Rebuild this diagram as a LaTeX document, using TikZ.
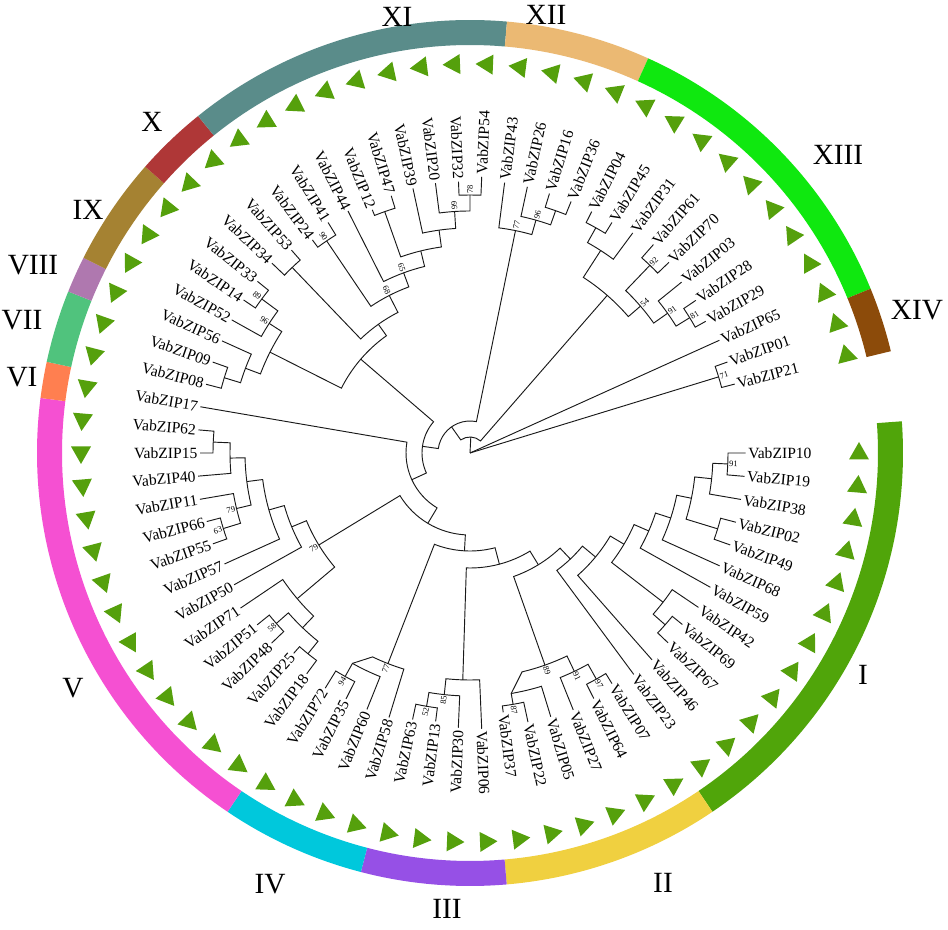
\documentclass[tikz,border=0pt]{standalone}
\usepackage{fontspec}
\setmainfont{Liberation Serif}

\definecolor{cI}{RGB}{80,165,10}
\definecolor{cII}{RGB}{240,208,64}
\definecolor{cIII}{RGB}{150,80,230}
\definecolor{cIV}{RGB}{0,200,220}
\definecolor{cV}{RGB}{245,80,210}
\definecolor{cVI}{RGB}{255,127,80}
\definecolor{cVII}{RGB}{80,195,125}
\definecolor{cVIII}{RGB}{175,120,175}
\definecolor{cIX}{RGB}{165,130,50}
\definecolor{cX}{RGB}{175,55,55}
\definecolor{cXI}{RGB}{90,140,138}
\definecolor{cXII}{RGB}{235,185,115}
\definecolor{cXIII}{RGB}{15,232,15}
\definecolor{cXIV}{RGB}{140,75,10}
\definecolor{tri}{RGB}{85,160,12}

\tikzset{
	branch/.style={line width=0.7pt, black!90},
	leaflabel/.style={font=\fontsize{11.7}{12}\selectfont, inner sep=0.6pt},
	bootlabel/.style={font=\fontsize{6.3}{7}\selectfont, inner sep=0.4pt},
	grouplabel/.style={font=\fontsize{22}{24}\selectfont, inner sep=0pt},
	marker/.style={fill=tri},
}

% leaf: number, slot, tip radius
\newcommand{\tip}[3]{%
	\pgfmathsetmacro\tang{-#2*4.864865}%
	\expandafter\xdef\csname angp#1\endcsname{\tang}%
	\coordinate (p#1) at (\tang:#3);%
	\pgfmathsetmacro\tlab{#3+1.5}%
	\pgfmathtruncatemacro\tflip{cos(\tang)<0}%
	\ifnum\tflip=1
		\pgfmathsetmacro\trot{\tang+180}%
		\node[leaflabel, anchor=east, rotate=\trot] (n#1) at (\tang:\tlab) {VabZIP#1};%
	\else
		\node[leaflabel, anchor=west, rotate=\tang] (n#1) at (\tang:\tlab) {VabZIP#1};%
	\fi
	\fill[marker, shift={(\tang:389)}, rotate=\tang] (0,11) -- (-10,-6.5) -- (10,-6.5) -- cycle;%
}

% inner node: name, radius, child, child, support
\newcommand{\clade}[5]{%
	\edef\cangA{\csname ang#3\endcsname}%
	\edef\cangB{\csname ang#4\endcsname}%
	\pgfmathsetmacro\cangM{(\cangA+\cangB)/2}%
	\expandafter\xdef\csname ang#1\endcsname{\cangM}%
	\coordinate (#1) at (\cangM:#2);%
	\coordinate (#3b) at (\cangA:#2);%
	\coordinate (#4b) at (\cangB:#2);%
	\draw[branch] (#3) -- (#3b) arc[start angle=\cangA, end angle=\cangB, radius=#2] -- (#4);%
	\def\csup{#5}%
	\ifx\csup\empty\else
		\pgfmathsetmacro\clab{#2+0.8}%
		\pgfmathtruncatemacro\cflip{cos(\cangM)<0}%
		\ifnum\cflip=1
			\pgfmathsetmacro\crot{\cangM+180}%
			\node[bootlabel, anchor=east, rotate=\crot] (s#1) at (\cangM:\clab) {#5};%
		\else
			\node[bootlabel, anchor=west, rotate=\cangM] (s#1) at (\cangM:\clab) {#5};%
		\fi
	\fi
}

% coloured ring between two angles
\newcommand{\band}[3]{%
	\fill[#3] (#1:408) arc[start angle=#1, end angle=#2, radius=408] -- (#2:433) arc[start angle=#2, end angle=#1, radius=433] -- cycle;%
}

\begin{document}
\begin{tikzpicture}[x=0.75pt, y=0.75pt]
	\fill[white] (-470,-477) rectangle (478,453);
	\useasboundingbox (-470,-477) rectangle (478,453);
	
	% groups
	\band{4.2}{-55.95}{cI}
	\band{-55.95}{-85.14}{cII}
	\band{-85.14}{-104.6}{cIII}
	\band{-104.6}{-124.05}{cIV}
	\band{-124.05}{-187.3}{cV}
	\band{-187.3}{-192.16}{cVI}
	\band{-192.16}{-201.9}{cVII}
	\band{-201.9}{-206.8}{cVIII}
	\band{-206.8}{-221.4}{cIX}
	\band{-221.4}{-231.1}{cX}
	\band{-231.1}{-274.9}{cXI}
	\band{-274.9}{-294.3}{cXII}
	\band{-294.3}{-337.7}{cXIII}
	\band{-337.7}{-346.4}{cXIV}
	
	% leaves
	\tip{10}{0}{275.7} \tip{19}{1}{275.5} \tip{38}{2}{274.9} \tip{02}{3}{274.8}
	\tip{49}{4}{276} \tip{68}{5}{274} \tip{59}{6}{275.4} \tip{42}{7}{275.7}
	\tip{69}{8}{273} \tip{67}{9}{274.4} \tip{46}{10}{275.6} \tip{23}{11}{275.4}
	\tip{07}{12}{270.8} \tip{64}{13}{275} \tip{27}{14}{276.9} \tip{05}{15}{275.9}
	\tip{22}{16}{275.2} \tip{37}{17}{261.4} \tip{06}{18}{276} \tip{30}{19}{275}
	\tip{13}{20}{270.5} \tip{63}{21}{272.6} \tip{58}{22}{276.6} \tip{60}{23}{276.4}
	\tip{35}{24}{275.4} \tip{72}{25}{276.1} \tip{18}{26}{274.6} \tip{25}{27}{266.9}
	\tip{48}{28}{274.8} \tip{51}{29}{273.6} \tip{71}{30}{277} \tip{50}{31}{270.2}
	\tip{57}{32}{269.4} \tip{55}{33}{272.7} \tip{66}{34}{272} \tip{11}{35}{274}
	\tip{40}{36}{272.9} \tip{15}{37}{270} \tip{62}{38}{272.5} \tip{17}{39}{273.6}
	\tip{08}{40}{272.8} \tip{09}{41}{272.9} \tip{56}{42}{272.1} \tip{52}{43}{272.9}
	\tip{14}{44}{273.3} \tip{33}{45}{273.2} \tip{34}{46}{274.4} \tip{53}{47}{270.2}
	\tip{24}{48}{265} \tip{41}{49}{270.7} \tip{44}{50}{271} \tip{12}{51}{262}
	\tip{47}{52}{269} \tip{39}{53}{270.7} \tip{20}{54}{272} \tip{32}{55}{271.6}
	\tip{54}{56}{276.5} \tip{43}{57}{272.6} \tip{26}{58}{272.3} \tip{16}{59}{271.3}
	\tip{36}{60}{271.1} \tip{04}{61}{270.3} \tip{45}{62}{270.7} \tip{31}{63}{273.7}
	\tip{61}{64}{277.6} \tip{70}{65}{275.6} \tip{03}{66}{272} \tip{28}{67}{272.5}
	\tip{29}{68}{270} \tip{65}{69}{273.7} \tip{01}{70}{273} \tip{21}{71}{273.6}
	
	% I
	\clade{c1}{258}{p10}{p19}{91}
	\clade{c2}{243}{c1}{p38}{}
	\clade{c3a}{259}{p02}{p49}{}
	\clade{c3}{226}{c2}{c3a}{}
	\clade{c4}{211}{c3}{p68}{}
	\clade{c5}{195}{c4}{p59}{}
	\clade{c6a}{260}{p69}{p67}{}
	\clade{c6b}{244}{p42}{c6a}{}
	\clade{c6}{179}{c5}{c6b}{}
	\clade{c7}{163}{c6}{p46}{}
	\clade{c8}{146}{c7}{p23}{}
	% II
	\clade{c97}{259}{p07}{p64}{97}
	\clade{c91}{242}{c97}{p27}{91}
	\clade{c87}{255}{p22}{p37}{87}
	\clade{c87b}{244}{p05}{c87}{}
	\clade{c89}{225}{c91}{c87b}{89}
	\clade{c9}{131}{c8}{c89}{}
	% III
	\clade{c52}{257}{p13}{p63}{52}
	\clade{c85}{243}{p30}{c52}{85}
	\clade{cIIIn}{227}{p06}{c85}{}
	\clade{cD}{115}{cIIIn}{c9}{}
	% IV
	\clade{c94}{256}{p35}{p72}{94}
	\clade{c94b}{241}{p60}{c94}{}
	\clade{c77}{226}{p58}{c94b}{77}
	\clade{cC}{98}{c77}{cD}{}
	% V
	\clade{c58}{258}{p48}{p51}{58}
	\clade{c18}{258}{p18}{p25}{}
	\clade{cV6}{242}{c18}{c58}{}
	\clade{cV5}{226}{cV6}{p71}{}
	\clade{c63}{258}{p55}{p66}{63}
	\clade{c79a}{240}{c63}{p11}{79}
	\clade{c62}{257}{p15}{p62}{}
	\clade{c40}{240}{p40}{c62}{}
	\clade{cV1}{225}{c79a}{c40}{}
	\clade{cV2}{209}{p57}{cV1}{}
	\clade{cV3}{193}{p50}{cV2}{}
	\clade{cV4}{177}{cV5}{cV3}{79}
	\clade{cB}{82}{cC}{cV4}{}
	\clade{cN4}{64}{cB}{p17}{}
	% VII - IX
	\clade{c08}{257}{p08}{p09}{}
	\clade{c56}{240}{c08}{p56}{}
	\clade{c89b}{259}{p14}{p33}{89}
	\clade{c96}{239}{p52}{c89b}{96}
	\clade{cP}{224}{c56}{c96}{}
	% X - XI
	\clade{c34}{257}{p34}{p53}{}
	\clade{c90}{256}{p24}{p41}{90}
	\clade{c78}{258}{p32}{p54}{78}
	\clade{c66}{242}{p20}{c78}{66}
	\clade{cV39}{225}{p39}{c66}{}
	\clade{c12}{256}{p12}{p47}{}
	\clade{cN39}{208}{c12}{cV39}{}
	\clade{c65}{192}{p44}{cN39}{65}
	\clade{c68}{177}{c90}{c65}{68}
	\clade{cR}{158}{c34}{c68}{}
	\clade{cQ}{144}{cP}{cR}{}
	\clade{cN3}{48}{cN4}{cQ}{}
	% XII
	\clade{c1636}{257}{p16}{p36}{}
	\clade{c26}{242}{p26}{c1636}{96}
	\clade{cXIIn}{227}{p43}{c26}{77}
	\clade{cN2}{32}{cN3}{cXIIn}{}
	% XIII
	\clade{c0445}{258}{p04}{p45}{}
	\clade{cA}{241}{c0445}{p31}{}
	\clade{c92}{260}{p61}{p70}{92}
	\clade{c81}{258}{p28}{p29}{81}
	\clade{c91b}{242}{p03}{c81}{91}
	\clade{c54}{225}{c92}{c91b}{54}
	\clade{cXIIIn}{209}{cA}{c54}{}
	\clade{cN1}{16}{cN2}{cXIIIn}{}
	% XIV
	\clade{c71}{260}{p01}{p21}{71}
	
	% root
	\coordinate (root) at (0,0);
	\draw[branch] (root) -- (cN1);
	\draw[branch] (root) -- (p65);
	\draw[branch] (root) -- (c71);
	
	% group names
	\node[grouplabel] (gI) at (393,-222) {I};
	\node[grouplabel] (gII) at (193,-430) {II};
	\node[grouplabel] (gIII) at (-23,-456) {III};
	\node[grouplabel] (gIV) at (-200,-431) {IV};
	\node[grouplabel] (gV) at (-397,-235) {V};
	\node[grouplabel] (gVI) at (-448,76) {VI};
	\node[grouplabel] (gVII) at (-448,133) {VII};
	\node[grouplabel] (gVIII) at (-437,188) {VIII};
	\node[grouplabel] (gIX) at (-382,243) {IX};
	\node[grouplabel] (gX) at (-318,331) {X};
	\node[grouplabel] (gXI) at (-73,436) {XI};
	\node[grouplabel] (gXII) at (76,438) {XII};
	\node[grouplabel] (gXIII) at (368,298) {XIII};
	\node[grouplabel] (gXIV) at (447,143) {XIV};
\end{tikzpicture}
\end{document}
